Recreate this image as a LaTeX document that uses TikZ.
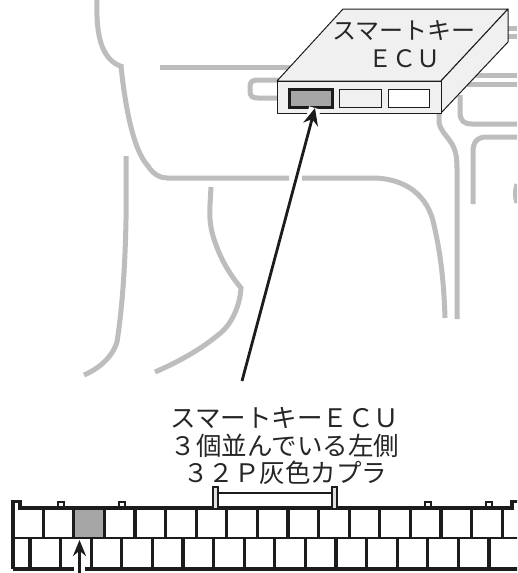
\documentclass[tikz,border=0pt]{standalone}
\usepackage{fontspec}
\newfontfamily\jpfont{Noto Sans CJK JP}
\usetikzlibrary{arrows.meta}
\definecolor{ghost}{gray}{0.74}
\definecolor{ink}{gray}{0.11}
\tikzset{
  x=1pt,y=-1pt,
  ghostline/.style={draw=ghost,line width=5pt},
  boxedge/.style={draw=ink,line width=1pt,line join=round,fill=black!6},
  conn/.style={draw=ink,line width=3.2pt},
  tabline/.style={draw=ink,line width=2pt},
  lab/.style={font=\jpfont\fontsize{24}{28}\selectfont,text=black!85,align=center,inner sep=0pt},
  caplab/.style={font=\jpfont\fontsize{25.5}{27.5}\selectfont,text=black!85,align=center,inner sep=0pt},
  pointer/.style={draw=ink,line width=2.8pt,-{Stealth[length=17pt,width=15pt]}},
}
\begin{document}
\begin{tikzpicture}
\clip (0,0) rectangle (517,573);
\fill[white] (0,0) rectangle (517,573);
% grey background outlines
\draw[ghostline] (97,-2) .. controls (96,30) and (99,60) .. (123,67);
\draw[ghostline] (121,66) .. controls (125,105) and (133,150) .. (148,166) .. controls (153,174) and (160,178) .. (167,178) -- (289,178);
\draw[ghostline] (302,178) -- (372,178) .. controls (405,178) and (428,195) .. (434,225) .. controls (441,255) and (444,285) .. (445,318);
\draw[ghostline] (126,156) -- (126,220) .. controls (125,270) and (122,310) .. (117,342) .. controls (112,358) and (98,369) .. (84,375);
\draw[ghostline] (211,187) -- (210,205) .. controls (209,225) and (212,235) .. (218,250) .. controls (224,265) and (232,277) .. (241,288) .. controls (240,305) and (232,325) .. (218,335) .. controls (200,350) and (178,362) .. (155,372);
\draw[ghostline] (160,67) -- (300,67);
\draw[ghostline] (285,80) -- (258,80) .. controls (252,80) and (250,82) .. (250,87) -- (250,91) .. controls (250,96) and (252,98) .. (258,98) -- (285,98);
\draw[ghostline] (500,28) -- (519,28);
\draw[ghostline] (500,36) -- (519,36);
\draw[ghostline] (470,75) -- (519,75);
\draw[ghostline] (450,84) -- (519,84);
\draw[ghostline] (460,95) -- (460,112) .. controls (460,121) and (464,124) .. (472,124) -- (519,124);
\draw[ghostline] (473,204) -- (473,152) .. controls (473,142) and (477,137) .. (487,137) -- (519,137);
\draw[ghostline] (439,110) -- (439,122) .. controls (440,130) and (446,135) .. (450,141) .. controls (455,148) and (457,155) .. (457,168) -- (457,319);
\draw[ghostline] (517,184) .. controls (515,190) and (515,197) .. (517,203);
% ECU box
\draw[boxedge] (277,81) -- (343,9) -- (508,9) -- (441,81) -- cycle;
\draw[boxedge] (441,81) -- (508,9) -- (508,42) -- (441,113) -- cycle;
\draw[boxedge] (277,81) rectangle (441,113);
\draw[ink,line width=3pt,fill=black!35] (289,89) rectangle (332,107);
\draw[ink,line width=1pt,fill=black!6] (339,89) rectangle (381,107);
\draw[ink,line width=1pt,fill=white] (388,89) rectangle (429,107);
\node[lab] (boxname) at (404,44) {スマートキー\\ＥＣＵ};
% pointer to port
\coordinate (callout) at (242,381);
\coordinate (port) at (315,108);
\draw[white,line width=12pt] (311,122) -- (port);
\draw[pointer] (callout) -- (port);
% caption
\node[caplab] (caption) at (285,446) {スマートキーＥＣＵ\\３個並んでいる左側\\３２Ｐ灰色カプラ};
% connector outline
\fill[black!35] (74,510) rectangle (104,537);
\draw[conn] (13,569) -- (13,501.5) -- (20,501.5) -- (20,508) -- (512,508) -- (512,501.5) -- (519,501.5);
\draw[conn] (13,569) -- (74,569);
\draw[conn] (85,569) -- (519,569);
\draw[draw=ink,line width=1.4pt] (13,538) -- (519,538);
\foreach \k in {0,...,15} {
  \draw[conn] ({43.2+30.6*\k},508) -- ({43.2+30.6*\k},538);
  \draw[conn] ({30+30.6*\k},538) -- ({30+30.6*\k},569);
}
% small tabs
\foreach \a in {58,119,425,486} {
  \draw[tabline] (\a,508) -- (\a,501.5) -- (\a+6,501.5) -- (\a+6,508);
}
\draw[tabline,fill=black!12] (213,508) -- (213,487) -- (218,487) -- (218,508);
\draw[tabline,fill=black!12] (332,508) -- (332,487) -- (337,487) -- (337,508);
\draw[tabline] (218,493) -- (332,493);
% pin arrow
\coordinate (pinfoot) at (79.5,575);
\coordinate (pin) at (79.5,540);
\draw[draw=ink,line width=2.6pt,-{Stealth[length=16pt,width=13pt]}] (pinfoot) -- (pin);
\end{tikzpicture}
\end{document}
